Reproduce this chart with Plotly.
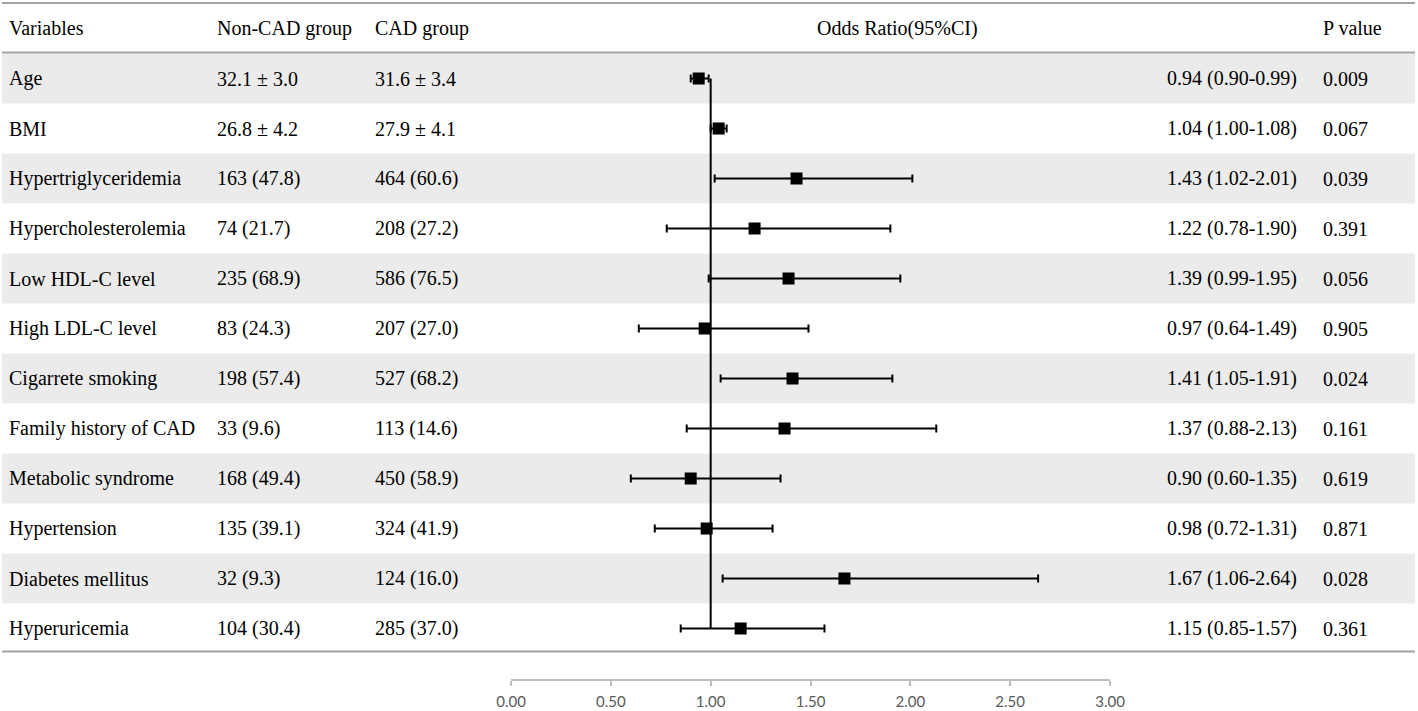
import plotly.graph_objects as go

# ---------------- data ----------------
variables = ["Age", "BMI", "Hypertriglyceridemia", "Hypercholesterolemia",
             "Low HDL-C level", "High LDL-C level", "Cigarrete smoking",
             "Family history of CAD", "Metabolic syndrome", "Hypertension",
             "Diabetes mellitus", "Hyperuricemia"]
non_cad = ["32.1 ± 3.0", "26.8 ± 4.2", "163 (47.8)", "74 (21.7)", "235 (68.9)",
           "83 (24.3)", "198 (57.4)", "33 (9.6)", "168 (49.4)", "135 (39.1)",
           "32 (9.3)", "104 (30.4)"]
cad = ["31.6 ± 3.4", "27.9 ± 4.1", "464 (60.6)", "208 (27.2)", "586 (76.5)",
       "207 (27.0)", "527 (68.2)", "113 (14.6)", "450 (58.9)", "324 (41.9)",
       "124 (16.0)", "285 (37.0)"]
odds_ratio = [0.94, 1.04, 1.43, 1.22, 1.39, 0.97, 1.41, 1.37, 0.90, 0.98, 1.67, 1.15]
ci_low = [0.90, 1.00, 1.02, 0.78, 0.99, 0.64, 1.05, 0.88, 0.60, 0.72, 1.06, 0.85]
ci_high = [0.99, 1.08, 2.01, 1.90, 1.95, 1.49, 1.91, 2.13, 1.35, 1.31, 2.64, 1.57]
p_values = ["0.009", "0.067", "0.039", "0.391", "0.056", "0.905", "0.024",
            "0.161", "0.619", "0.871", "0.028", "0.361"]
headers = ["Variables", "Non-CAD group", "CAD group", "Odds Ratio(95%CI)", "P value"]
tick_vals = [0, 0.5, 1.0, 1.5, 2.0, 2.5, 3.0]
tick_text = ["0.00", "0.50", "1.00", "1.50", "2.00", "2.50", "3.00"]
reference_or = 1.0

# ---------------- layout constants ----------------
W, H = 1418, 711
ROW0, ROWH = 78.5, 50.0          # pixel centre of first row, row height


def py(pix):
    """pixel (from top) -> row-index coordinate"""
    return (pix - ROW0) / ROWH


def px(pix):
    return pix / W


rows = list(range(len(variables)))
SERIF = "Liberation Serif, Times New Roman, serif"
FS = 20

fig = go.Figure()

# reference line at OR = 1
fig.add_trace(go.Scatter(
    x=[reference_or, reference_or], y=[rows[0], rows[-1]], mode="lines",
    line=dict(color="black", width=2), hoverinfo="skip", showlegend=False))

# OR points with CIs
fig.add_trace(go.Scatter(
    x=odds_ratio, y=rows, mode="markers",
    marker=dict(symbol="square", size=12, color="black", line=dict(width=0)),
    error_x=dict(type="data", symmetric=False,
                 array=[h - o for h, o in zip(ci_high, odds_ratio)],
                 arrayminus=[o - l for o, l in zip(odds_ratio, ci_low)],
                 color="black", thickness=2, width=4),
    showlegend=False))

shapes = []
# alternating bands
for i in rows:
    if i % 2 == 0:
        shapes.append(dict(type="rect", xref="paper", yref="y",
                           x0=px(2), x1=px(1415), y0=i - 0.5, y1=i + 0.5,
                           fillcolor="#ebebeb", line=dict(width=0), layer="below"))
# horizontal rules
for yp in [3, 52.5, 651.5]:
    shapes.append(dict(type="line", xref="paper", yref="y",
                       x0=px(2), x1=px(1415), y0=py(yp), y1=py(yp),
                       line=dict(color="#a3a3a3", width=2), layer="below"))

annotations = []


def add_text(text, xpix, yval, anchor="left"):
    annotations.append(dict(text=text, x=px(xpix), y=yval, xref="paper", yref="y",
                            xanchor=anchor, yanchor="middle", showarrow=False,
                            font=dict(family=SERIF, size=FS, color="black")))


hy = py(28)
add_text(headers[0], 7, hy)
add_text(headers[1], 215, hy)
add_text(headers[2], 373, hy)
add_text(headers[3], 815, hy)
add_text(headers[4], 1321, hy)

for i in rows:
    add_text(variables[i], 7, i)
    add_text(non_cad[i], 215, i)
    add_text(cad[i], 373, i)
    add_text(f"{odds_ratio[i]:.2f} ({ci_low[i]:.2f}-{ci_high[i]:.2f})", 1299, i, "right")
    add_text(p_values[i], 1321, i)

fig.update_layout(
    autosize=True, margin=dict(l=0, r=0, t=0, b=0, autoexpand=False),
    paper_bgcolor="white", plot_bgcolor="rgba(0,0,0,0)",
    shapes=shapes, annotations=annotations,
    xaxis=dict(domain=[px(511), px(1110)], range=[0, 3], anchor="free",
               position=(H - 680) / H, showgrid=False, zeroline=False,
               showline=True, linecolor="#bfbfbf", linewidth=1.5,
               ticks="outside", ticklen=5, tickwidth=1.5, tickcolor="#bfbfbf",
               tickvals=tick_vals, ticktext=tick_text, ticklabelstandoff=3,
               tickfont=dict(family="Lato, Open Sans, sans-serif", size=15, color="#595959")),
    yaxis=dict(domain=[0, 1], range=[py(H), py(0)], visible=False,
               showgrid=False, zeroline=False),
)

fig.write_html("out.html", default_width="100vw", default_height="100vh",
               config={"responsive": True, "displayModeBar": False},
               post_script="document.body.style.margin='0';document.body.style.overflow='hidden';"
                           "window.dispatchEvent(new Event('resize'));")
